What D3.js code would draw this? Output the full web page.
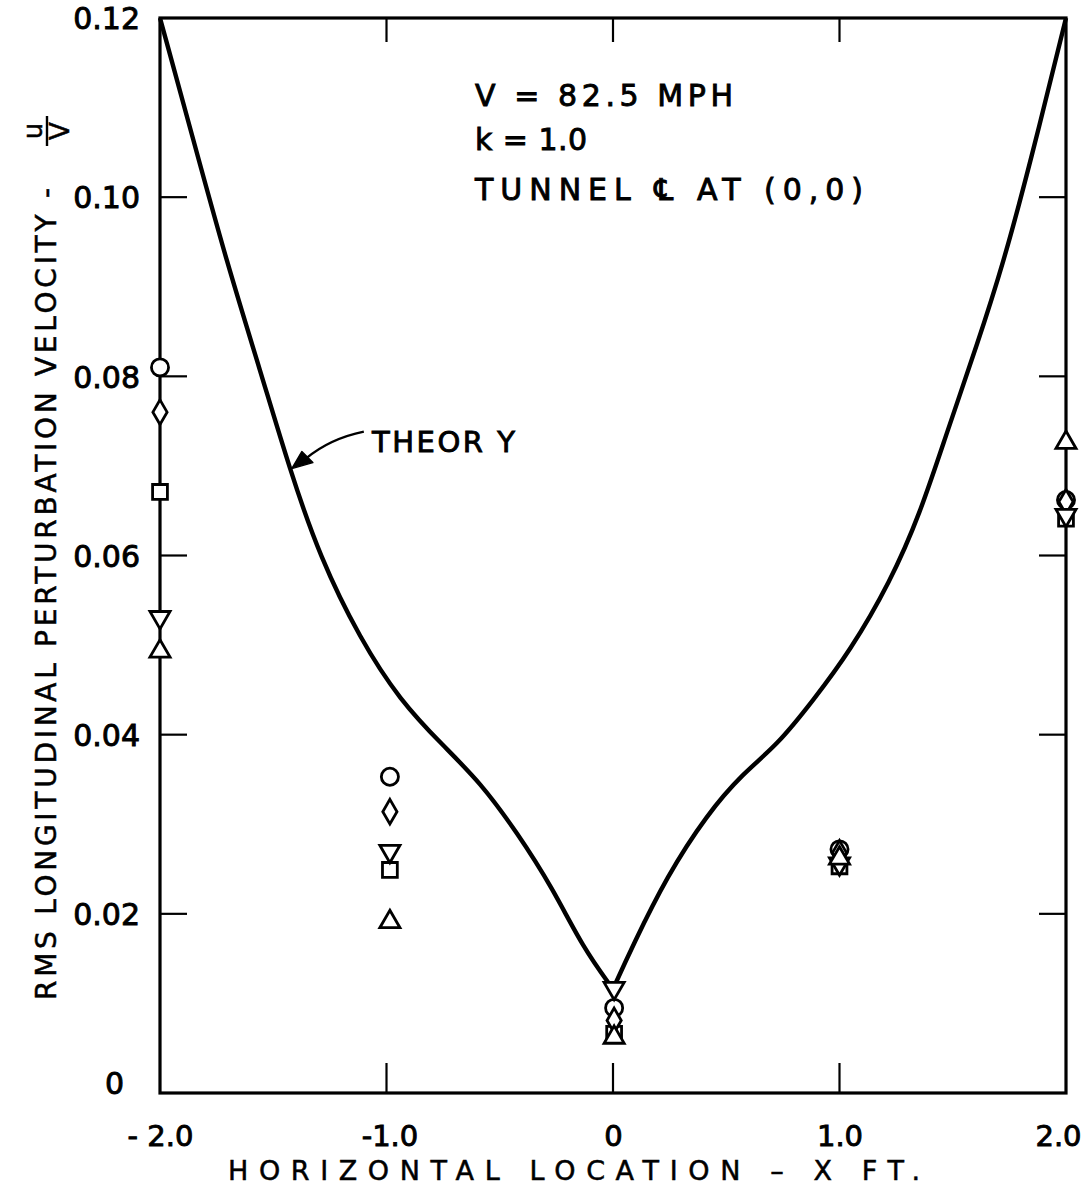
<!DOCTYPE html>
<html><head><meta charset="utf-8">
<script src="https://cdn.jsdelivr.net/npm/d3@7"></script>
<style>
html,body{margin:0;padding:0;background:#fff;}
svg text{font-family:"DejaVu Sans","Liberation Sans",sans-serif;fill:#000;}
</style></head>
<body><svg id="c" width="1082" height="1185"></svg>
<script>
// ---- data ----
const xPositions = [-2.0, -0.985, 0.005, 1.0, 2.0];
const circleVals   = [0.0810, 0.0353, 0.0095, 0.0272, 0.0662];
const squareVals   = [0.0671, 0.0249, 0.0066, 0.0253, 0.0641];
const diamondVals  = [0.0760, 0.0314, 0.0081, 0.0268, 0.0660];
const triDownVals  = [0.0531, 0.0270, 0.0117, 0.0256, 0.0645];
const triUpVals    = [0.0493, 0.0191, 0.0062, 0.0262, 0.0726];

// theory curve, left half (x <= 0) and right half (x >= 0)
const theoryLeftX  = [-2.0,-1.854,-1.704,-1.558,-1.426,-1.294,-1.117,-0.940,-0.751,-0.587,-0.424,-0.265,-0.132,0.0];
const theoryLeftY  = [0.1200,0.1065,0.0926,0.0807,0.0695,0.0598,0.0507,0.0438,0.0388,0.0347,0.0291,0.0228,0.0162,0.0116];
const theoryRightX = [0.0,0.088,0.238,0.415,0.574,0.724,0.883,1.046,1.223,1.355,1.475,1.607,1.722,1.841,2.0];
const theoryRightY = [0.0116,0.0165,0.0242,0.0311,0.0357,0.0388,0.0438,0.0493,0.0570,0.0646,0.0738,0.0835,0.0925,0.1037,0.1200];

const yTickValues = [0, 0.02, 0.04, 0.06, 0.08, 0.10, 0.12];
const yTickLabels = ["0", "0.02", "0.04", "0.06", "0.08", "0.10", "0.12"];
const xTickValues = [-2, -1, 0, 1, 2];
const xTickLabels = ["- 2.0", "-1.0", "0", "1.0", "2.0"];
const innerYTicks = [0.02, 0.04, 0.06, 0.08, 0.10];
const innerXTicks = [-1, 0, 1];

const xTitle = "HORIZONTAL  LOCATION – X  FT.";
const yTitle = "RMS LONGITUDINAL PERTURBATION VELOCITY  -";
const notes = ["V = 82.5  MPH", "k = 1.0", "TUNNEL  \u2104  AT  (0,0)"];
const theoryLabel = "THEOR Y";

// ---- layout ----
const svg = d3.select("#c");
const x = d3.scaleLinear().domain([-2, 2]).range([160, 1066]);
const y = d3.scaleLinear().domain([0, 0.12]).range([1093, 18]);
const TXT_STROKE = 0.9;

// frame
svg.append("rect").attr("x", x(-2)).attr("y", y(0.12))
  .attr("width", x(2) - x(-2)).attr("height", y(0) - y(0.12))
  .attr("fill", "none").attr("stroke", "#000").attr("stroke-width", 3.2);

// inward ticks
const tk = svg.append("g").attr("stroke", "#000").attr("stroke-width", 2.2);
innerYTicks.forEach(v => {
  tk.append("line").attr("x1", x(-2)).attr("x2", x(-2) + 27).attr("y1", y(v)).attr("y2", y(v));
  tk.append("line").attr("x1", x(2)).attr("x2", x(2) - 27).attr("y1", y(v)).attr("y2", y(v));
});
innerXTicks.forEach(v => {
  tk.append("line").attr("x1", x(v)).attr("x2", x(v)).attr("y1", y(0)).attr("y2", y(0) - 30);
  tk.append("line").attr("x1", x(v)).attr("x2", x(v)).attr("y1", y(0.12)).attr("y2", y(0.12) + 24);
});

// y tick labels via axis
const yAx = svg.append("g").attr("transform", `translate(${x(-2)},0)`)
  .call(d3.axisLeft(y).tickValues(yTickValues).tickSize(0).tickPadding(20)
    .tickFormat((d, i) => yTickLabels[i]));
yAx.select(".domain").remove();
yAx.selectAll("text").attr("font-size", 30).attr("font-family", "DejaVu Sans")
  .attr("stroke", "#000").attr("stroke-width", TXT_STROKE)
  .attr("dy", (d) => d === 0 ? "0.0em" : "0.36em")
  .attr("dx", (d) => d === 0 ? -16 : 0);

// x tick labels via axis
const xAx = svg.append("g").attr("transform", `translate(0,${y(0)})`)
  .call(d3.axisBottom(x).tickValues(xTickValues).tickSize(0).tickPadding(36)
    .tickFormat((d, i) => xTickLabels[i]));
xAx.select(".domain").remove();
xAx.selectAll("text").attr("font-size", 29).attr("font-family", "DejaVu Sans")
  .attr("stroke", "#000").attr("stroke-width", TXT_STROKE)
  .attr("dy", "0.6em")
  .attr("dx", (d) => d === 2 ? -8 : (d === -1 ? 3 : 0));

// axis titles
svg.append("text").attr("x", 574).attr("y", 1180).attr("text-anchor", "middle")
  .attr("font-size", 27).attr("stroke", "#000").attr("stroke-width", 0.5)
  .attr("textLength", 692).attr("lengthAdjust", "spacing")
  .text(xTitle);

const yt = svg.append("g").attr("transform", "translate(45,0) rotate(-90)");
yt.append("text").attr("x", -1000).attr("y", 11).attr("font-size", 28)
  .attr("stroke", "#000").attr("stroke-width", 0.5)
  .attr("textLength", 812).attr("lengthAdjust", "spacing").text(yTitle);
// u / V fraction
yt.append("text").attr("x", -131).attr("y", -3).attr("text-anchor", "middle").attr("font-size", 26)
  .attr("stroke", "#000").attr("stroke-width", 0.5).text("u");
yt.append("line").attr("x1", -146).attr("x2", -116).attr("y1", 2).attr("y2", 2)
  .attr("stroke", "#000").attr("stroke-width", 2.4);
yt.append("text").attr("x", -131).attr("y", 24).attr("text-anchor", "middle").attr("font-size", 26)
  .attr("stroke", "#000").attr("stroke-width", 0.5).text("V");

// annotations
const noteY = [106, 150, 200];
const noteLen = [258, 112, 388];
notes.forEach((t, i) => {
  svg.append("text").attr("x", 475).attr("y", noteY[i]).attr("font-size", 30)
    .attr("stroke", "#000").attr("stroke-width", TXT_STROKE)
    .attr("textLength", noteLen[i]).attr("lengthAdjust", "spacing").text(t);
});

// theory curve (two smooth branches meeting in a cusp at x = 0)
const branch = (xs, ys) => d3.line().x((d, i) => x(xs[i])).y((d, i) => y(ys[i])).curve(d3.curveBasis)(xs);
svg.append("path").attr("d", branch(theoryLeftX, theoryLeftY) + branch(theoryRightX, theoryRightY))
  .attr("fill", "none").attr("stroke", "#000").attr("stroke-width", 4.4).attr("stroke-linejoin", "round");

// theory label + arrow
svg.append("text").attr("x", 372).attr("y", 452).attr("font-size", 29)
  .attr("stroke", "#000").attr("stroke-width", TXT_STROKE)
  .attr("textLength", 143).attr("lengthAdjust", "spacing").text(theoryLabel);
const tipX = x(-1.418), tipY = y(0.0697);
svg.append("path")
  .attr("d", `M${tipX + 72},${tipY - 37} Q${tipX + 38},${tipY - 30} ${tipX + 14},${tipY - 10}`)
  .attr("fill", "none").attr("stroke", "#000").attr("stroke-width", 2.4);
svg.append("path")
  .attr("d", `M${tipX},${tipY} L${tipX + 10},${tipY - 17} L${tipX + 21},${tipY - 6} Z`)
  .attr("fill", "#000").attr("stroke", "#000").attr("stroke-width", 1.5).attr("stroke-linejoin", "round");

// markers
const series = [
  { vals: circleVals,  type: d3.symbolCircle,   size: 230, rot: 0 },
  { vals: squareVals,  type: d3.symbolSquare,   size: 220, rot: 0 },
  { vals: diamondVals, type: d3.symbolDiamond,  size: 175, rot: 0 },
  { vals: triDownVals, type: d3.symbolTriangle, size: 175, rot: 180 },
  { vals: triUpVals,   type: d3.symbolTriangle, size: 175, rot: 0 },
];
series.forEach(s => {
  svg.append("g").selectAll("path").data(s.vals).join("path")
    .attr("d", d3.symbol().type(s.type).size(s.size))
    .attr("transform", (d, i) => `translate(${x(xPositions[i])},${y(d)}) rotate(${s.rot})`)
    .attr("fill", "#fff").attr("stroke", "#000").attr("stroke-width", 2.8);
});
</script></body></html>
